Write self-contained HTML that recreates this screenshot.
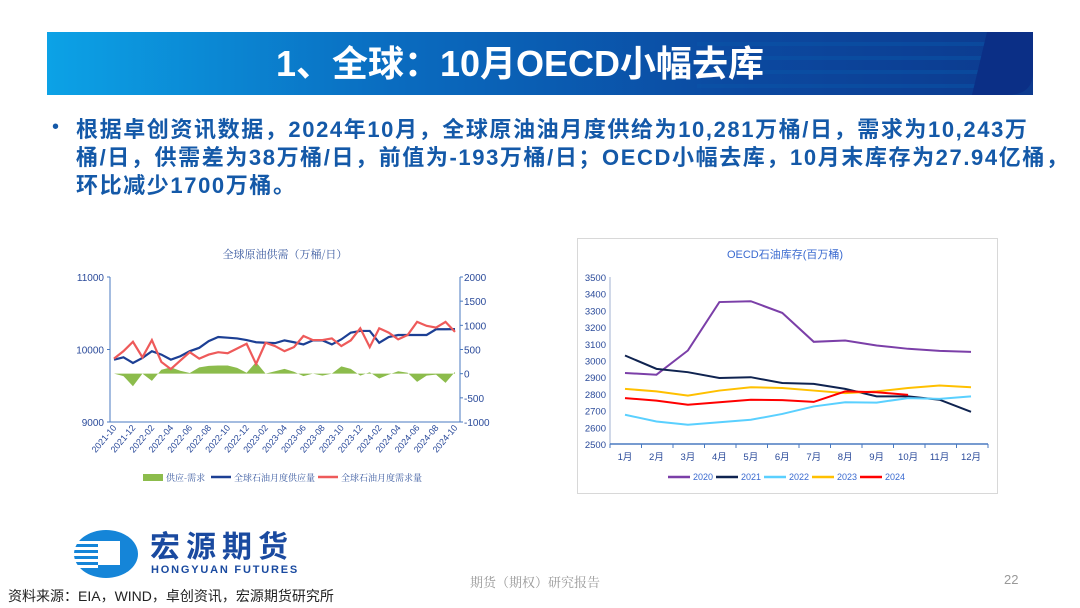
<!DOCTYPE html>
<html><head><meta charset="utf-8">
<style>
body{margin:0;width:1080px;height:608px;background:#fff;position:relative;overflow:hidden;font-family:"Liberation Sans","Noto Sans CJK SC",sans-serif}
.abs{position:absolute}
#header{left:47px;top:32px;width:986px;height:63px;background:linear-gradient(90deg,#0ca2e6 0%,#0a6cc0 35%,#0b49a0 70%,#0d3a8e 100%);overflow:hidden}
#title{left:0;top:0;width:946px;text-align:center;line-height:63px;color:#fff;font-weight:bold;font-size:36px;font-family:"Liberation Sans","Noto Sans CJK SC",sans-serif}
.body-line{left:76px;font-size:22px;line-height:26px;font-weight:bold;color:#1459a8;white-space:nowrap;letter-spacing:1.6px}
</style></head><body>
<div id="header" class="abs">
<svg class="abs" style="left:0;top:0" width="986" height="63">
<g fill="#0a55a8" opacity="0.5"><rect x="650" y="10" width="300" height="4"/><rect x="650" y="24" width="295" height="4"/><rect x="650" y="38" width="290" height="4"/><rect x="650" y="52" width="285" height="4"/></g>
<path d="M940 0 L986 0 L986 40 Q986 63 960 63 L925 63 Z" fill="#0b2f86"/>
</svg>
<div id="title" class="abs">1、全球：10月OECD小幅去库</div>
</div>
<div class="abs" style="left:52px;top:116px;font-size:20px;color:#1459a8">•</div>
<div class="abs body-line" style="top:117px">根据卓创资讯数据，2024年10月，全球原油油月度供给为10,281万桶/日，需求为10,243万</div>
<div class="abs body-line" style="top:145px">桶/日，供需差为38万桶/日，前值为-193万桶/日；OECD小幅去库，10月末库存为27.94亿桶，</div>
<div class="abs body-line" style="top:173px">环比减少1700万桶。</div>

<svg id="left" class="abs" style="left:0;top:0" width="540" height="500"></svg>
<svg id="right" class="abs" style="left:0;top:0" width="1080" height="500"></svg>

<svg class="abs" style="left:70px;top:527px" width="70" height="55">
<ellipse cx="36" cy="27" rx="32" ry="24" fill="#1585d8"/>
<g fill="#fff"><rect x="4" y="14" width="24" height="3"/><rect x="2" y="20" width="26" height="3"/><rect x="2" y="26" width="26" height="3"/><rect x="2" y="32" width="26" height="3"/><rect x="4" y="38" width="24" height="3"/></g>
<rect x="28" y="14" width="22" height="24" fill="#fff"/>
</svg>
<div class="abs" style="left:150px;top:533px;font-size:30px;line-height:30px;font-weight:bold;color:#1a4aa0;letter-spacing:6px">宏源期货</div>
<div class="abs" style="left:151px;top:564px;font-size:11px;line-height:12px;font-weight:bold;color:#1a4aa0;letter-spacing:1.8px">HONGYUAN FUTURES</div>
<div class="abs" style="left:8px;top:586px;font-size:14px;color:#222">资料来源：EIA，WIND，卓创资讯，宏源期货研究所</div>
<div class="abs" style="left:470px;top:572px;font-size:13px;color:#999;font-family:'Noto Serif CJK SC',serif">期货（期权）研究报告</div>
<div class="abs" style="left:1004px;top:572px;font-size:13px;color:#999">22</div>

<script>
const NS="http://www.w3.org/2000/svg";
function mk(p,t,a){const e=document.createElementNS(NS,t);for(const k in a)e.setAttribute(k,a[k]);p.appendChild(e);return e;}
// ---- Left chart data ----
const months=["2021-10","2021-11","2021-12","2022-01","2022-02","2022-03","2022-04","2022-05","2022-06","2022-07","2022-08","2022-09","2022-10","2022-11","2022-12","2023-01","2023-02","2023-03","2023-04","2023-05","2023-06","2023-07","2023-08","2023-09","2023-10","2023-11","2023-12","2024-01","2024-02","2024-03","2024-04","2024-05","2024-06","2024-07","2024-08","2024-09","2024-10"];
const supply=[9860,9893,9814,9884,9977,9930,9860,9907,9977,10023,10116,10172,10163,10153,10130,10100,10093,10088,10126,10100,10070,10126,10126,10070,10140,10233,10256,10256,10093,10172,10200,10200,10200,10200,10279,10279,10281];
const demand=[9874,9977,10107,9893,10130,9828,9730,9847,9963,9874,9930,9963,9949,10014,10079,9800,10093,10047,9977,10033,10186,10130,10130,10153,10047,10126,10293,10033,10293,10233,10140,10200,10381,10326,10302,10381,10243];
const balance=[0,-50,-260,0,-150,80,130,60,15,130,160,170,170,120,20,240,0,50,100,40,-50,0,-40,0,150,100,-40,30,-100,-20,50,20,-170,-40,-20,-190,38];
const leftTicks=[9000,10000,11000];
const rightTicks=[-1000,-500,0,500,1000,1500,2000];
(function(){
 const s=document.getElementById('left');
 const x0=110,x1=460,yT=277,yB=422,px0=114,px1=455;
 const X=i=>px0+(px1-px0)*i/(months.length-1);
 const YL=v=>yB-(v-9000)/2000*(yB-yT);
 const YR=v=>yB-(v+1000)/3000*(yB-yT);
 const t=mk(s,'text',{x:285,y:258,'text-anchor':'middle','font-size':11,fill:'#3a5aa0','font-family':'Noto Serif CJK SC,serif'});t.textContent='全球原油供需（万桶/日）';
 
 
 mk(s,'line',{x1:x0,y1:yT,x2:x0,y2:yB,stroke:'#4a7ac0','stroke-width':1});
 mk(s,'line',{x1:x1,y1:yT,x2:x1,y2:yB,stroke:'#4a7ac0','stroke-width':1});
 mk(s,'line',{x1:x0,y1:yB,x2:x1,y2:yB,stroke:'#4a7ac0','stroke-width':1});
 leftTicks.forEach(v=>{const e=mk(s,'text',{x:x0-6,y:YL(v)+4,'text-anchor':'end','font-size':10,fill:'#2a4a9a'});e.textContent=v;
  
  
  mk(s,'line',{x1:x0-3,y1:YL(v),x2:x0,y2:YL(v),stroke:'#4a7ac0'});});
 rightTicks.forEach(v=>{const e=mk(s,'text',{x:x1+4,y:YR(v)+4,'font-size':10,fill:'#2a4a9a'});e.textContent=v;
  
  
  mk(s,'line',{x1:x1,y1:YR(v),x2:x1+3,y2:YR(v),stroke:'#4a7ac0'});});
 months.forEach((m,i)=>{if(i%2==0){const e=mk(s,'text',{x:X(i)+3,y:yB+6,'text-anchor':'end','font-size':9,fill:'#2a4a9a',transform:`rotate(-50 ${X(i)+3} ${yB+6})`});e.textContent=m;
  
  }});
 let d=`M${X(0)} ${YR(0)}`;balance.forEach((v,i)=>d+=` L${X(i)} ${YR(v)}`);d+=` L${X(balance.length-1)} ${YR(0)} Z`;
 const a=mk(s,'path',{d:d,fill:'#8cbc4c'});
 
 
 const sl=mk(s,'polyline',{points:supply.map((v,i)=>X(i)+','+YL(v)).join(' '),fill:'none',stroke:'#1c3f94','stroke-width':2.2});
 
 
 const dl=mk(s,'polyline',{points:demand.map((v,i)=>X(i)+','+YL(v)).join(' '),fill:'none',stroke:'#ee5a5a','stroke-width':2.2});
 
 
 const leg=[['供应-需求','#8cbc4c',143,true],['全球石油月度供应量','#1c3f94',211,false],['全球石油月度需求量','#ee5a5a',318,false]];
 leg.forEach(l=>{const g=mk(s,'g',{});
  if(l[3])mk(g,'rect',{x:l[2],y:474,width:20,height:7,fill:l[1]});else mk(g,'line',{x1:l[2],y1:477,x2:l[2]+20,y2:477,stroke:l[1],'stroke-width':2.5});
  const e=mk(g,'text',{x:l[2]+23,y:481,'font-size':9,fill:'#3a5aa0','font-family':'Noto Serif CJK SC,serif'});e.textContent=l[0];});
})();
// ---- Right chart data ----
const mlabels=["1月","2月","3月","4月","5月","6月","7月","8月","9月","10月","11月","12月"];
const years=["2020","2021","2022","2023","2024"];
const inv2020=[2925,2915,3060,3350,3355,3285,3112,3120,3090,3070,3058,3052];
const inv2021=[3030,2950,2930,2895,2900,2865,2860,2830,2785,2785,2765,2693];
const inv2022=[2675,2635,2615,2630,2645,2680,2725,2750,2748,2775,2770,2785];
const inv2023=[2830,2815,2790,2820,2840,2835,2820,2805,2815,2835,2850,2840];
const inv2024=[2775,2760,2735,2750,2765,2763,2752,2815,2810,2794];
const invTicks=[2500,2600,2700,2800,2900,3000,3100,3200,3300,3400,3500];
(function(){
 const s=document.getElementById('right');
 const x0=610,x1=988,yT=277,yB=444,px0=625,px1=971;
 const X=i=>px0+(px1-px0)*i/11;
 const Y=v=>yB-(v-2500)/1000*(yB-yT);
 mk(s,'rect',{x:577.5,y:238.5,width:420,height:255,fill:'none',stroke:'#d8d8d8'});
 const t=mk(s,'text',{x:785,y:258,'text-anchor':'middle','font-size':11,fill:'#3a6ad0'});t.textContent='OECD石油库存(百万桶)';
 
 
 mk(s,'line',{x1:x0,y1:yT,x2:x0,y2:yB,stroke:'#a0b0d0'});
 mk(s,'line',{x1:x0,y1:yB,x2:x1,y2:yB,stroke:'#4a7ac0','stroke-width':1.5});
 invTicks.forEach(v=>{const e=mk(s,'text',{x:x0-4,y:Y(v)+4,'text-anchor':'end','font-size':9.5,fill:'#2a4a9a'});e.textContent=v;
  
  });
 for(let i=0;i<=12;i++){const xx=x0+(x1-x0)*i/12;mk(s,'line',{x1:xx,y1:yB,x2:xx,y2:yB+4,stroke:'#4a7ac0'});}
 mlabels.forEach((m,i)=>{const e=mk(s,'text',{x:X(i),y:yB+16,'text-anchor':'middle','font-size':9.5,fill:'#2a4a9a'});e.textContent=m;
  
  });
 const series=[inv2020,inv2021,inv2022,inv2023,inv2024];
 const cols=['#7b3fa8','#0f2350','#5ad0ff','#ffc000','#ff0000'];
 series.forEach((arr,k)=>{const p=mk(s,'polyline',{points:arr.map((v,i)=>X(i)+','+Y(v)).join(' '),fill:'none',stroke:cols[k],'stroke-width':2});
  
  });
 years.forEach((y,k)=>{const lx=668+k*48;const g=mk(s,'g',{});
  
  
  mk(g,'line',{x1:lx,y1:477,x2:lx+22,y2:477,stroke:cols[k],'stroke-width':2.5});
  const e=mk(g,'text',{x:lx+25,y:480,'font-size':9,fill:'#3a6ad0'});e.textContent=y;});
})();
</script>
</body></html>
